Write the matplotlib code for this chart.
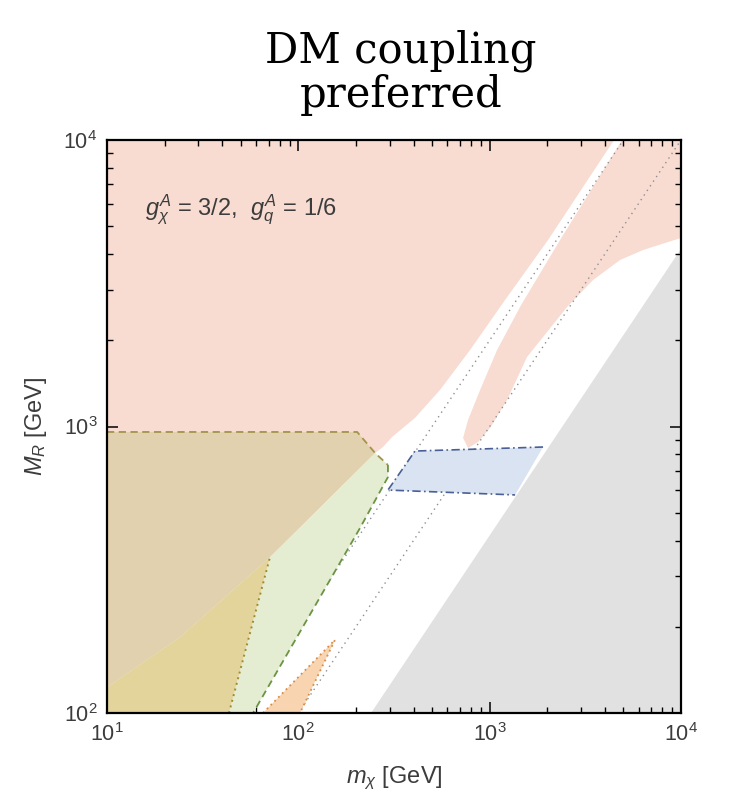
import numpy as np
import matplotlib
matplotlib.use("Agg")
import matplotlib.pyplot as plt
from matplotlib.ticker import LogLocator, NullFormatter

plt.rcParams['font.family'] = ['Liberation Sans', 'DejaVu Sans']
plt.rcParams['mathtext.fontset'] = 'custom'
plt.rcParams['mathtext.rm'] = 'Liberation Sans'
plt.rcParams['mathtext.it'] = 'Liberation Sans:italic'
plt.rcParams['mathtext.bf'] = 'Liberation Sans:bold'

# ---------------- data (GeV) ----------------
# excluded (pink) main region: left edge, lower boundary, then left edge of resonance strip
pink_main_m = [10, 10, 24.1, 71.1, 252, 277, 309, 407, 550, 790, 1204, 2020, 4470]
pink_main_M = [10000, 123, 184, 350, 808, 848, 919, 1071, 1341, 1849, 2764, 4477, 10000]

# pink tongue right of the resonance strip
tongue_m = [4921, 2333, 1460, 1093, 891, 771, 726, 771, 870, 1005, 1233, 1568, 2539, 3471, 4806, 6339, 10000, 10000]
tongue_M = [10000, 4477, 2655, 1849, 1341, 1054, 912, 841, 883, 988, 1237, 1748, 2613, 3246, 3812, 4131, 4550, 10000]

# dashed region (tan where overlapping pink, green elsewhere)
tan_m = [10, 203, 252, 71.1, 24.1, 10]
tan_M = [957, 957, 808, 350, 184, 123]
green_m = [252, 294, 294, 210, 58, 43.4, 71.1]
green_M = [808, 734, 666, 442, 100, 100, 350]
dash_top_m = [10, 203, 252, 294]
dash_top_M = [957, 957, 808, 734]
dash_side_m = [294, 294, 210, 58]
dash_side_M = [734, 666, 442, 100]

# dotted (yellow) region
yellow_m = [10, 24.1, 71.1, 43.4, 10]
yellow_M = [123, 184, 350, 100, 100]
dot_m = [43.4, 71.1]
dot_M = [100, 350]

# orange triangle
orange_m = [65.4, 155.5, 102]
orange_M = [100, 180, 100]

# blue parallelogram
blue_m = [294, 407, 1901, 1358]
blue_M = [600, 821, 848, 577]

# gray region boundary
gray_edge_m = [240, 10000]
gray_edge_M = [100, 4170]

# reference lines M = m and M = 2m
diag_m = [100, 10000]
diag_M = [100, 10000]
res_m = [50, 5000]
res_M = [100, 10000]

xticks = [10, 100, 1000, 10000]
yticks = [100, 1000, 10000]

# ---------------- colours ----------------
c_pink = '#f8dcd2'
c_tan = '#e1d1ae'
c_green = '#e4edd1'
c_yellow = '#e3d49c'
c_orange = '#f8d4b0'
c_blue = '#d9e3f1'
c_gray = '#e1e1e1'
c_text = '#3c3c3c'

fig = plt.figure(figsize=(7.36, 7.92), dpi=100)
ax = fig.add_axes([107/736, 1-713/792, 574/736, 573/792])
ax.set_xscale('log')
ax.set_yscale('log')
ax.set_xlim(10, 10000)
ax.set_ylim(100, 10000)

ax.fill(pink_main_m, pink_main_M, color=c_pink, lw=0, zorder=1)
ax.fill(tongue_m, tongue_M, color=c_pink, lw=0, zorder=1)
ax.fill([gray_edge_m[0], gray_edge_m[1], gray_edge_m[1]],
        [gray_edge_M[0], gray_edge_M[1], gray_edge_M[0]], color=c_gray, lw=0, zorder=1)

ax.plot(diag_m, diag_M, ls=(0, (1, 3)), color='#8f8f8f', lw=1.0, zorder=2)
ax.plot(res_m, res_M, ls=(0, (1, 3)), color='#8f8f8f', lw=1.0, zorder=2)

ax.fill(tan_m, tan_M, color=c_tan, lw=0, zorder=3)
ax.fill(green_m, green_M, color=c_green, lw=0, zorder=3)
ax.fill(yellow_m, yellow_M, color=c_yellow, lw=0, zorder=3)
ax.fill(orange_m, orange_M, color=c_orange, lw=0, zorder=3)
ax.fill(blue_m, blue_M, color=c_blue, lw=0, zorder=3)

ax.plot(dash_top_m, dash_top_M, ls=(0, (4, 2.5)), color='#a3944c', lw=1.3, zorder=4)
ax.plot(dash_side_m, dash_side_M, ls=(0, (4, 2.5)), color='#6a9443', lw=1.3, zorder=4)
ax.plot(dot_m, dot_M, ls=(0, (1, 2)), color='#a08a30', lw=1.4, zorder=4)
ax.plot(orange_m, orange_M, ls=(0, (1, 2)), color='#d88d48', lw=1.3, zorder=4)
ax.plot([blue_m[2], blue_m[1], blue_m[0], blue_m[3]],
        [blue_M[2], blue_M[1], blue_M[0], blue_M[3]],
        ls=(0, (5, 2, 1, 2)), color='#4a5f95', lw=1.2, zorder=4)

ax.set_xticks(xticks)
ax.set_yticks(yticks)
ax.xaxis.set_minor_locator(LogLocator(base=10, subs=np.arange(2, 10)))
ax.yaxis.set_minor_locator(LogLocator(base=10, subs=np.arange(2, 10)))
ax.xaxis.set_minor_formatter(NullFormatter())
ax.yaxis.set_minor_formatter(NullFormatter())
ax.tick_params(which='both', direction='in', top=True, right=True, colors='black',
               labelcolor=c_text, labelsize=15.5)
ax.tick_params(which='major', length=8, width=1.1, pad=7)
ax.tick_params(which='minor', length=4.5, width=1.0)
for s in ax.spines.values():
    s.set_linewidth(1.6)
    s.set_zorder(6)

ax.set_xlabel(r'$m_\chi$ [GeV]', fontsize=17, color=c_text, labelpad=14)
ax.set_ylabel(r'$M_R$ [GeV]', fontsize=17, color=c_text, labelpad=10)

ax.text(0.066, 0.878, r'$g_\chi^A$ = 3/2,  $g_q^A$ = 1/6', transform=ax.transAxes,
        fontsize=17, color=c_text, va='center', ha='left', zorder=5)

fig.text(0.545, 1-62/792, 'DM coupling', family='DejaVu Serif', fontsize=30,
         ha='center', va='baseline', color='black')
fig.text(0.545, 1-107/792, 'preferred', family='DejaVu Serif', fontsize=30,
         ha='center', va='baseline', color='black')

fig.savefig('out.png', dpi=100)
